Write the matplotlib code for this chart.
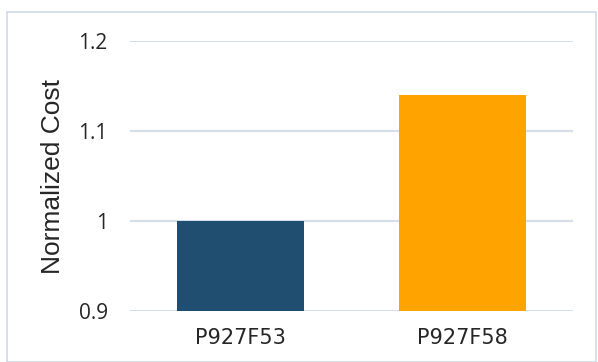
import matplotlib
matplotlib.use("Agg")
import matplotlib.pyplot as plt
from matplotlib.patches import Rectangle

categories = ["P927F53", "P927F58"]
values = [1.0, 1.14]
colors = ["#1F4E71", "#FFA300"]
yticks = [0.9, 1.0, 1.1, 1.2]
ytick_labels = ["0.9", "1", "1.1", "1.2"]

fig = plt.figure(figsize=(5.98, 3.62), dpi=100)
fig.patches.append(Rectangle((7 / 598, 0.0), 589 / 598, 1 - 12 / 362, transform=fig.transFigure,
                             fill=False, edgecolor="#D0DBE8", linewidth=1.2))
ax = fig.add_axes([130 / 598, 1 - 311 / 362, 443 / 598, 270 / 362])

x = range(len(categories))
ax.bar(x, [v - 0.9 for v in values], bottom=0.9, width=0.574, color=colors, zorder=3)
ax.set_xlim(-0.5, 1.5)
ax.set_ylim(0.9, 1.2)
ax.set_yticks(yticks)
ax.set_yticklabels(ytick_labels, fontsize=15, color="#262626", family="Open Sans")
ax.set_xticks(list(x))
ax.set_xticklabels(categories, fontsize=15, color="#262626", family="DejaVu Sans")
ax.grid(axis="y", color="#D6DEE9", linewidth=1.5, zorder=0)
ax.tick_params(axis="x", length=0, pad=12)
ax.tick_params(axis="y", length=0, pad=16)
for s in ax.spines.values():
    s.set_visible(False)
ax.set_ylabel("Normalized Cost", fontsize=19, color="#262626", family="Liberation Sans")
ax.yaxis.set_label_coords(-0.147, 0.5)

fig.savefig("out.png", dpi=100)
